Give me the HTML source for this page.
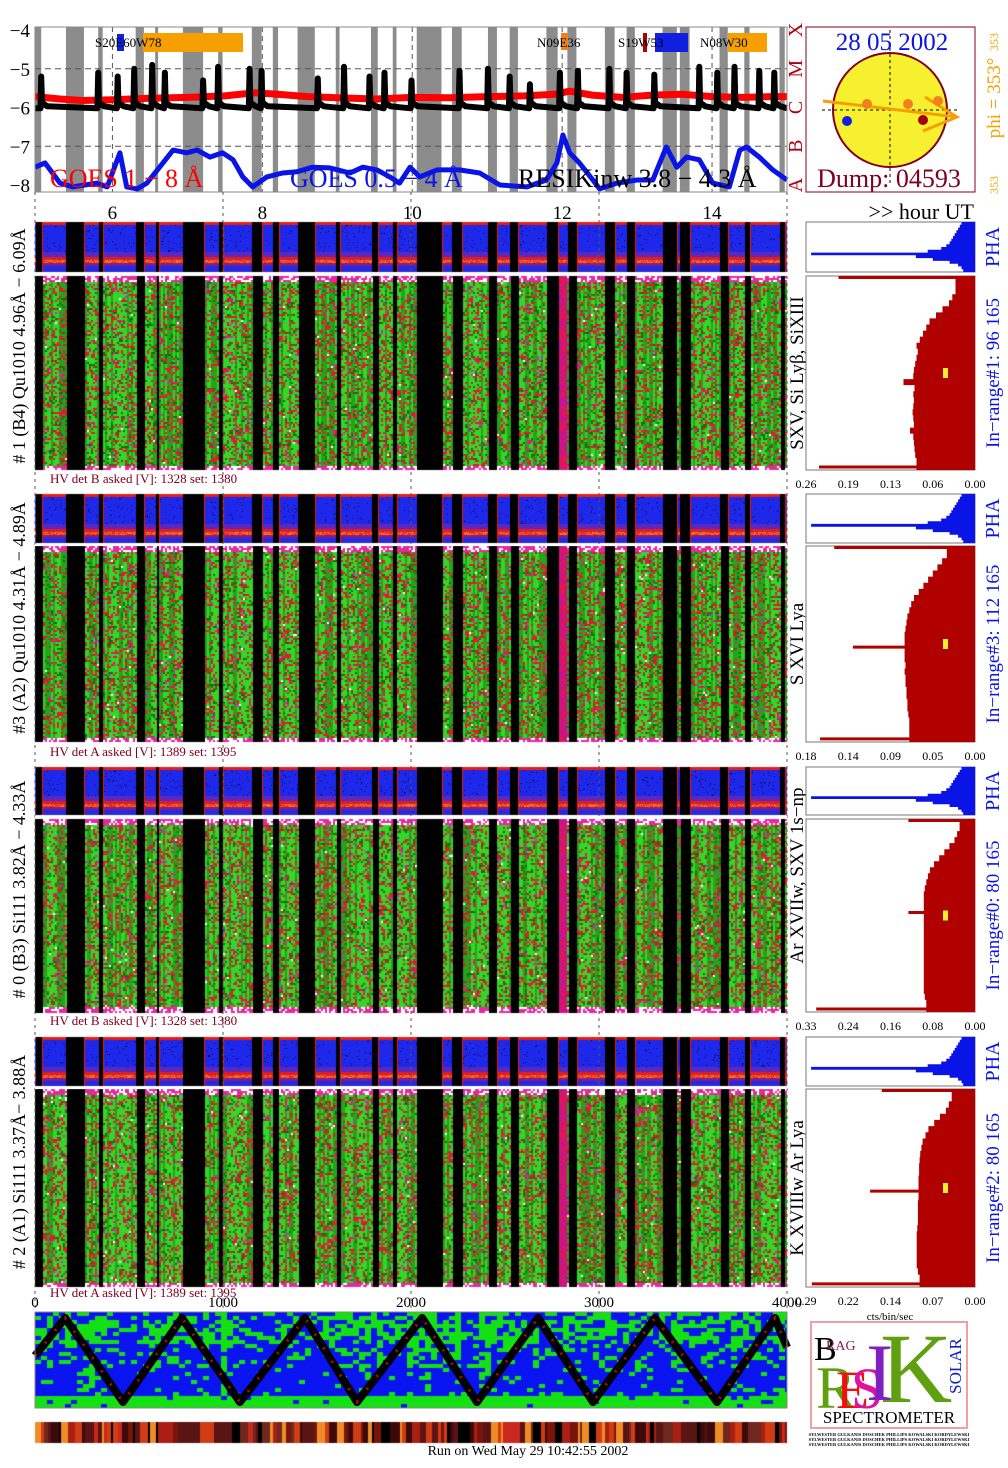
<!DOCTYPE html>
<html><head><meta charset="utf-8">
<style>
html,body{margin:0;padding:0;background:#fff;}
#wrap{position:relative;width:1008px;height:1468px;overflow:hidden;font-family:"Liberation Serif",serif;}
canvas{position:absolute;left:0;top:0;}
svg{position:absolute;left:0;top:0;}
</style></head>
<body>
<div id="wrap">
<canvas id="cv" width="1008" height="1468"></canvas>
<svg id="sv" width="1008" height="1468" xmlns="http://www.w3.org/2000/svg"></svg>
</div>
<script>
// ---------- DATA ----------
const hourTicks = [6, 8, 10, 12, 14];
const logTicks = [-4, -5, -6, -7, -8];
const classLetters = ["X", "M", "C", "B", "A"];
const gapStart = [4.97,5.38,5.81,6.31,6.57,6.94,7.41,7.86,8.14,8.47,8.98,9.45,9.74,10.06,10.53,11.01,11.30,11.79,12.07,12.57,12.86,13.34,13.57,14.10,14.43,14.90];
const gapEnd   = [5.05,5.62,5.87,6.42,6.61,7.21,7.47,7.99,8.21,8.70,9.03,9.54,9.79,10.39,10.66,11.13,11.41,11.94,12.19,12.70,12.97,13.53,13.70,14.21,14.50,14.97];
const redT = [4.97,5.3,5.6,6.0,6.5,7.0,7.5,7.9,8.2,8.6,9.0,9.5,10.0,10.5,11.0,11.5,11.9,12.1,12.4,12.8,13.2,13.6,14.0,14.4,14.8,15.0];
const redV = [-5.72,-5.78,-5.82,-5.80,-5.76,-5.74,-5.70,-5.62,-5.66,-5.72,-5.75,-5.78,-5.74,-5.75,-5.72,-5.70,-5.66,-5.58,-5.68,-5.74,-5.68,-5.66,-5.72,-5.74,-5.72,-5.72];
const spikeT = [5.05,5.81,6.07,6.29,6.53,6.70,7.21,7.41,7.83,7.99,8.74,9.09,9.43,9.63,9.99,10.63,11.01,11.30,11.57,11.97,12.21,12.63,12.86,13.23,13.83,14.07,14.30,14.63,14.83];
const spikeV = [-5.2,-5.1,-5.2,-5.0,-4.9,-5.1,-5.3,-4.95,-5.0,-5.05,-5.25,-4.95,-5.2,-5.1,-5.3,-5.05,-5.0,-5.2,-5.4,-5.1,-5.05,-5.0,-5.1,-5.15,-4.95,-5.1,-4.95,-5.05,-5.1];
const blackBase = -6.02;
const blueT = [4.97,5.10,5.30,5.47,5.79,5.93,6.10,6.19,6.33,6.46,6.63,6.81,6.99,7.13,7.30,7.47,7.61,7.74,7.87,8.06,8.27,8.46,8.67,8.90,9.17,9.34,9.53,9.70,9.83,9.97,10.10,10.33,10.63,10.90,11.17,11.53,11.79,11.93,12.01,12.10,12.23,12.41,12.50,12.73,13.00,13.21,13.39,13.53,13.66,13.83,14.01,14.23,14.37,14.46,14.63,14.81,15.00];
const blueV = [-7.54,-7.43,-7.95,-8.05,-7.95,-8.05,-7.17,-8.05,-8.1,-7.95,-7.54,-7.10,-7.17,-7.10,-7.28,-7.17,-7.35,-7.79,-8.05,-7.79,-7.69,-7.66,-7.54,-7.56,-7.69,-7.54,-7.61,-7.79,-7.95,-7.54,-7.79,-7.61,-7.61,-7.69,-8.0,-8.05,-7.87,-7.43,-6.71,-7.17,-7.43,-7.87,-8.1,-7.95,-7.87,-7.87,-7.02,-7.54,-7.28,-7.35,-7.95,-8.05,-7.10,-7.02,-7.28,-7.61,-7.87];
const binTicks = [0, 1000, 2000, 3000, 4000];
const zigB = [0,160,468,782,1090,1436,1713,2059,2351,2676,2968,3298,3628,3936,4000];
const zigP = [0.55,1,0,1,0,1,0,1,0,1,0,1,0,1,0.65];
const hist1 = [0.21,0.03,0.03,0.035,0.04,0.05,0.06,0.07,0.075,0.08,0.085,0.09,0.088,0.09,0.092,0.094,0.095,0.11,0.093,0.095,0.094,0.095,0.096,0.095,0.094,0.1,0.095,0.094,0.093,0.092,0.09,0.24];
const hist2 = [0.15,0.03,0.035,0.04,0.045,0.05,0.055,0.06,0.065,0.068,0.07,0.072,0.073,0.074,0.075,0.075,0.13,0.075,0.075,0.074,0.075,0.074,0.074,0.073,0.073,0.072,0.072,0.071,0.07,0.07,0.07,0.165];
const hist3 = [0.13,0.03,0.035,0.04,0.05,0.06,0.07,0.08,0.088,0.092,0.095,0.098,0.1,0.1,0.1,0.13,0.1,0.1,0.1,0.1,0.1,0.1,0.1,0.1,0.1,0.1,0.1,0.1,0.1,0.098,0.095,0.31];
const hist4 = [0.16,0.04,0.045,0.05,0.06,0.07,0.08,0.085,0.09,0.092,0.094,0.095,0.096,0.096,0.097,0.097,0.18,0.097,0.098,0.098,0.098,0.098,0.099,0.1,0.1,0.1,0.1,0.1,0.1,0.098,0.095,0.28];
const histMax = [0.26, 0.18, 0.33, 0.29];
const histTicks1 = ["0.26","0.19","0.13","0.06","0.00"];
const histTicks2 = ["0.18","0.14","0.09","0.05","0.00"];
const histTicks3 = ["0.33","0.24","0.16","0.08","0.00"];
const histTicks4 = ["0.29","0.22","0.14","0.07","0.00"];
const phaFrac = [0.08,0.09,0.1,0.11,0.12,0.13,0.14,0.15,0.17,0.2,0.28,0.97,0.35,0.25,0.15,0.1,0.08,0.07];
const inRange = ["In\u2212range#1:   96 165","In\u2212range#3:   112 165","In\u2212range#0:   80 165","In\u2212range#2:   80 165"];
const detLabel = ["# 1 (B4) Qu1010 4.96\u00c5 \u2212 6.09\u00c5","#3 (A2) Qu1010  4.31\u00c5 \u2212 4.89\u00c5","# 0 (B3) Si111  3.82\u00c5 \u2212 4.33\u00c5","# 2 (A1) Si111  3.37\u00c5\u2212 3.88\u00c5"];
const lineLabel = ["SXV, Si Ly\u03b2, SiXIII","S XVI Lya","Ar XVIIw,  SXV 1s\u2212np","K XVIIIw  Ar Lya"];
const hvText = ["HV det B asked [V]:  1328 set:  1380","HV det A asked [V]:  1389 set:  1395","HV det B asked [V]:  1328 set:  1380","HV det A asked [V]:  1389 set:  1395"];

// ---------- LAYOUT ----------
const X0 = 35, X1 = 787, T0 = 4.967, T1 = 15.0;
const xH = h => X0 + (h - T0) / (T1 - T0) * (X1 - X0);
const GY0 = 30, GY1 = 185;
const yL = v => GY0 + (-4 - v) / 4 * (GY1 - GY0);
const xB = b => X0 + b / 4000 * (X1 - X0);
const blocks = [
  {s0:222,s1:272,m0:276,m1:470,hv:483},
  {s0:494,s1:543,m0:546,m1:742,hv:756},
  {s0:767,s1:815,m0:819,m1:1012,hv:1025},
  {s0:1037,s1:1086,m0:1089,m1:1287,hv:1297}
];
const hists = [hist1, hist2, hist3, hist4];
const histTicks = [histTicks1, histTicks2, histTicks3, histTicks4];
const HX0 = 806, HX1 = 975;

// ---------- CANVAS TEXTURES ----------
let seed = 12345;
function rnd(){ seed = (seed * 1664525 + 1013904223) >>> 0; return seed / 4294967296; }
const cv = document.getElementById('cv');
const ctx = cv.getContext('2d');
const img = ctx.createImageData(1008, 1468);
const D = img.data;
function px(x, y, r, g, b){ const i = (y * 1008 + x) * 4; D[i]=r; D[i+1]=g; D[i+2]=b; D[i+3]=255; }
function inGap(x){ for (let k=0;k<gapStart.length;k++){ if (x >= xH(gapStart[k]) && x < xH(gapEnd[k])) return true; } return false; }
const gapCol = []; for (let x=0;x<1008;x++) gapCol[x] = inGap(x);
for (const bl of blocks) {
  for (let x = X0; x < X1; x++) {
    const edge = x>X0 && gapCol[x-1] && !gapCol[x];
    for (let y = bl.s0; y < bl.s1; y++) {
      if (gapCol[x]) { px(x,y,0,0,0); continue; }
      const f = (y - bl.s0) / (bl.s1 - bl.s0);
      let c;
      if (edge || f < 0.05) c = [230,30,20];
      else if (f < 0.6) c = rnd()<0.03 ? [10,10,60] : [30,40,235];
      else if (f < 0.7) c = [90,40,190];
      else if (f < 0.76) c = [220,30,40];
      else if (f < 0.82) c = rnd()<0.5 ? [250,120,30] : [240,40,20];
      else if (f < 0.88) c = [120,30,150];
      else c = [40,40,220];
      px(x,y,c[0],c[1],c[2]);
    }
  }
  for (let x = X0; x < X1; x += 2) {
    const colBright = rnd() < 0.6;
    const mag = (x >= 555 && x < 566);
    for (let y = bl.m0; y < bl.m1; y += 2) {
      let c;
      if (gapCol[x] || x < 41) c = [0,0,0];
      else if (mag) c = rnd()<0.5 ? [230,20,80] : [190,20,160];
      else if (y < bl.m0 + 5 || y > bl.m1 - 6) c = rnd()<0.4 ? [255,255,255] : [230,40,160];
      else {
        const r = rnd();
        if (r < 0.005) c = [255,255,255];
        else if (r < 0.025) c = [210,30,200];
        else if (r < 0.25) c = [225,25,50];
        else if (r < 0.35) c = [20,110,10];
        else c = colBright ? [50,215,40] : [35,165,25];
      }
      px(x,y,c[0],c[1],c[2]); px(x+1,y,c[0],c[1],c[2]); px(x,y+1,c[0],c[1],c[2]); px(x+1,y+1,c[0],c[1],c[2]);
    }
  }
}
// bottom detector image: coarse blobs
const CW = 6, CH = 4;
for (let cx = X0; cx < X1; cx += CW) {
  const colG = rnd();
  for (let cy = 1312; cy < 1408; cy += CH) {
    const f = (cy - 1312) / 96;
    let pg;
    if (f < 0.08) pg = 0.35; else if (f < 0.3) pg = 0.55; else if (f < 0.55) pg = 0.25; else if (f < 0.84) pg = 0.1; else pg = 0.92;
    if (colG < 0.2 && f < 0.84) pg += 0.25;
    const g = rnd() < pg;
    const c = g ? [20,225,20] : [10,20,240];
    for (let x = cx; x < Math.min(cx+CW, X1); x++) for (let y = cy; y < Math.min(cy+CH,1408); y++) px(x,y,c[0],c[1],c[2]);
  }
}
// colour bar strip
const palette = [[0,0,0],[120,20,10],[170,30,20],[210,60,20],[240,140,40],[90,20,20],[200,40,30],[60,10,10],[110,40,30]];
for (let x = X0; x < X1;) {
  const w = 2 + Math.floor(rnd()*7);
  const c = palette[Math.floor(rnd()*palette.length)];
  for (let xx = x; xx < Math.min(x+w, X1); xx++) for (let y = 1422; y < 1443; y++) px(xx,y,c[0],c[1],c[2]);
  x += w;
}
for (let i = 0; i < D.length; i += 4) { if (D[i+3] === 0) { D[i]=255; D[i+1]=255; D[i+2]=255; D[i+3]=255; } }
ctx.putImageData(img, 0, 0);

// ---------- SVG ----------
const NS = "http://www.w3.org/2000/svg";
const sv = document.getElementById('sv');
function mk(tag, attrs, parent){ const e = document.createElementNS(NS, tag); for (const k in attrs) e.setAttribute(k, attrs[k]); (parent||sv).appendChild(e); return e; }
function txt(s, attrs, parent){ const e = mk('text', attrs, parent); e.textContent = s; return e; }

const goes = mk('g', {});


const bg = mk('rect', {x:X0,y:27,width:X1-X0,height:165,fill:'#fff'}, goes);


for (let k = 0; k < gapStart.length; k++) {
  const r = mk('rect', {x:xH(gapStart[k]), y:27, width:xH(gapEnd[k])-xH(gapStart[k]), height:165, fill:'#8c8c8c'}, goes);
  
  
}
for (const v of [-5,-6,-7]) {
  const l = mk('line', {x1:X0,x2:X1,y1:yL(v),y2:yL(v),stroke:'#555','stroke-dasharray':'6,4','stroke-width':1}, goes);
  
  
}
for (const h of hourTicks) {
  const l = mk('line', {x1:xH(h),x2:xH(h),y1:27,y2:192,stroke:'#555','stroke-dasharray':'5,4','stroke-width':1}, goes);
  
  
}
let d = redT.map((t,i)=>(i?'L':'M')+xH(t).toFixed(1)+','+yL(redV[i]).toFixed(1)).join(' ');
const redPath = mk('path', {d:d, fill:'none', stroke:'#f00', 'stroke-width':7}, goes);


let bp = [[T0, blackBase]];
for (let i = 0; i < spikeT.length; i++) {
  bp.push([spikeT[i]-0.01, blackBase]);
  bp.push([spikeT[i], spikeV[i]]);
  bp.push([spikeT[i]+0.01, blackBase+0.15]);
  bp.push([spikeT[i]+0.08, blackBase+0.05]);
}
bp.push([T1, blackBase]);
d = bp.map((p,i)=>(i?'L':'M')+xH(p[0]).toFixed(1)+','+yL(p[1]).toFixed(1)).join(' ');
const blkPath = mk('path', {d:d, fill:'none', stroke:'#000', 'stroke-width':6, 'stroke-linejoin':'round'}, goes);


d = blueT.map((t,i)=>(i?'L':'M')+xH(t).toFixed(1)+','+yL(Math.max(blueV[i],-8.12)).toFixed(1)).join(' ');
const bluePath = mk('path', {d:d, fill:'none', stroke:'#0a14e6', 'stroke-width':5, 'stroke-linejoin':'round'}, goes);


const fr = mk('rect', {x:X0,y:27,width:X1-X0,height:165,fill:'none',stroke:'#888'}, goes);


logTicks.forEach((v,i)=>{
  const t = txt('\u2212'+(-v), {x:30,y:yL(v)+7,'font-size':19,'text-anchor':'end'});
  
  
  const c = txt(classLetters[i], {x:0,y:0,'font-size':20,fill:'#b00010','text-anchor':'middle',transform:'translate(802,'+(yL(v))+') rotate(-90)'});
  
  
});
const g1 = txt('GOES 1 \u2212 8 \u00c5', {x:50,y:187,'font-size':26,fill:'#f00'});
 
const g2 = txt('GOES 0.5 \u2212 4 \u00c5', {x:290,y:187,'font-size':26,fill:'#0a14e6'});
 
const g3 = txt('RESIKinw 3.8 \u2212 4.3 \u00c5', {x:518,y:187,'font-size':26,fill:'#000'});
 
const arRects = [[117,34,7,17,'#1020e0'],[143,33,100,19,'#f5a000'],[561,33,7,17,'#f08020'],[643,33,4,19,'#b00000'],[655,33,33,19,'#1020e0'],[728,33,39,19,'#f5a000']];
for (const r of arRects) {
  const e = mk('rect', {x:r[0],y:r[1],width:r[2],height:r[3],fill:r[4]});
  
  
}
const arText = [['S20E60W78',95],['N09E36',537],['S19W53',618],['N08W30',700]];
for (const a of arText) {
  const e = txt(a[0], {x:a[1],y:47,'font-size':13});
  
  
}
hourTicks.forEach(h=>{
  const e = txt(String(h), {x:xH(h),y:219,'font-size':19,'text-anchor':'middle'});
  
  
});
const hu = txt('>> hour UT', {x:974,y:219,'font-size':22,'text-anchor':'end'});


for (const b of binTicks) {
  const l = mk('line', {x1:xB(b),x2:xB(b),y1:192,y2:1312,stroke:'#555','stroke-dasharray':'3,4','stroke-width':1});
  
  
}

const sun = mk('g', {});


mk('rect', {x:806,y:27,width:169,height:165,fill:'#fff',stroke:'#800020'}, sun);
const disk = mk('circle', {cx:890,cy:110,r:57,fill:'#f6f02e',stroke:'#800020','stroke-width':2}, sun);
 
mk('line', {x1:822,x2:958,y1:110,y2:110,stroke:'#000','stroke-dasharray':'3,3'}, sun);
mk('line', {x1:890,x2:890,y1:30,y2:185,stroke:'#000','stroke-dasharray':'3,3'}, sun);
const arrow = mk('path', {d:'M823,101 L957,117 M925,97 L957,117 L923,131',fill:'none',stroke:'#f5a000','stroke-width':3}, sun);
 
const dots = [[867,104,'#f08020'],[908,104,'#f08020'],[938,101,'#f08020'],[847,121,'#1020e0'],[923,120,'#a00010']];
for (const p of dots) {
  const c = mk('circle', {cx:p[0],cy:p[1],r:5,fill:p[2]}, sun);
  
  
}
const dt = txt('28 05 2002', {x:892,y:50,'font-size':25,fill:'#0a14e6','text-anchor':'middle'}, sun);
 
const dp = txt('Dump: 04593', {x:889,y:187,'font-size':26,fill:'#800020','text-anchor':'middle'}, sun);
 
const phi = txt('phi = 353\u00b0', {x:0,y:0,'font-size':19,fill:'#f5a000','text-anchor':'middle',transform:'translate(1000,98) rotate(-90)'});
 
const phi2 = txt('353', {x:0,y:0,'font-size':12,fill:'#f5a000','text-anchor':'middle',transform:'translate(998,42) rotate(-90)'});
 
const phi3 = txt('353', {x:0,y:0,'font-size':12,fill:'#f5a000','text-anchor':'middle',transform:'translate(998,185) rotate(-90)'});
 

blocks.forEach((bl, bi)=>{
  const g = mk('g', {});
  
  
  const lab = txt(detLabel[bi], {x:0,y:0,'font-size':18,'text-anchor':'middle',transform:'translate(25,'+((bl.s0+bl.m1)/2)+') rotate(-90)'}, g);
   
  const hv = txt(hvText[bi], {x:50,y:bl.hv,'font-size':13,fill:'#800020','xml:space':'preserve'}, g);
   
  const ll = txt(lineLabel[bi], {x:0,y:0,'font-size':19,'text-anchor':'middle','xml:space':'preserve',transform:'translate(803,'+((bl.m0+bl.m1)/2 + (bi==2? -40:0))+') rotate(-90)'}, g);
   
  const ph = bl.s1 - bl.s0, n = phaFrac.length;
  let pts = [[HX1, bl.s0]];
  phaFrac.forEach((f,i)=>{ const y0 = bl.s0 + i*ph/n, y1 = bl.s0 + (i+1)*ph/n; const x = HX1 - f*(HX1-HX0); pts.push([x,y0],[x,y1]); });
  pts.push([HX1, bl.s1]);
  mk('rect', {x:HX0,y:bl.s0,width:HX1-HX0,height:ph,fill:'#fff',stroke:'#777'}, g);
  const pp = mk('polygon', {points:pts.map(p=>p[0].toFixed(1)+','+p[1].toFixed(1)).join(' '),fill:'#0a14e6'}, g);
   
  const pl = txt('PHA', {x:0,y:0,'font-size':20,fill:'#0a14e6','text-anchor':'middle',transform:'translate(999,'+((bl.s0+bl.s1)/2)+') rotate(-90)'}, g);
   
  const hd = hists[bi], mh = bl.m1 - bl.m0, m = hd.length, mx = histMax[bi];
  const hxv = v => HX1 - v / mx * (HX1 - HX0);
  pts = [[HX1, bl.m0]];
  hd.forEach((v,i)=>{ const y0 = bl.m0 + i*mh/m, y1 = bl.m0 + (i+1)*mh/m; const isSpike = (i>0 && v > hd[i-1]*1.2 && (i==m-1 || v > hd[i+1]*1.2)); if (isSpike) { const ym=(y0+y1)/2; pts.push([hxv(hd[i-1]||v),y0],[hxv(hd[i-1]||v),ym-1.5],[hxv(v),ym-1.5],[hxv(v),ym+1.5],[hxv(i==m-1?hd[i-1]:hd[i+1]),ym+1.5],[hxv(i==m-1?hd[i-1]:hd[i+1]),y1]); } else if (i==0) { pts.push([hxv(v),y0],[hxv(v),y0+3],[hxv(hd[1]),y0+3],[hxv(hd[1]),y1]); } else pts.push([hxv(v),y0],[hxv(v),y1]); });
  pts.push([HX1, bl.m1]);
  mk('rect', {x:HX0,y:bl.m0,width:HX1-HX0,height:mh,fill:'#fff',stroke:'#777'}, g);
  const hp = mk('polygon', {points:pts.map(p=>p[0].toFixed(1)+','+p[1].toFixed(1)).join(' '),fill:'#b00000'}, g);
   
  const ym = mk('rect', {x:943,y:(bl.m0+bl.m1)/2-5,width:5,height:10,fill:'#f6f02e'}, g);
   
  histTicks[bi].forEach((s,i)=>{
    const t = txt(s, {x:HX0 + i*(HX1-HX0)/4,y:bl.m1+18,'font-size':12,'text-anchor':'middle'}, g);
     
  });
  const ir = txt(inRange[bi], {x:0,y:0,'font-size':19,fill:'#0a14e6','text-anchor':'middle','xml:space':'preserve',transform:'translate(999,'+((bl.m0+bl.m1)/2)+') rotate(-90)'}, g);
   
  mk('line', {x1:X0,x2:X1,y1:bl.s1+2,y2:bl.s1+2,stroke:'#fff','stroke-width':2}, g);
});
const cbs = txt('cts/bin/sec', {x:890,y:1320,'font-size':11,'text-anchor':'middle'});
 

binTicks.forEach(b=>{
  const t = txt(String(b), {x:xB(b),y:1307,'font-size':15,'text-anchor':'middle'});
   
});
const zy = p => 1402 - p * (1402 - 1318);
const zpath = zigB.map((b,i)=>(i?'L':'M')+xB(b).toFixed(1)+','+zy(zigP[i]).toFixed(1)).join(' ');
const zz = mk('path', {d:zpath, fill:'none', stroke:'#000', 'stroke-width':8, 'stroke-linejoin':'round'});
 
const zz2 = mk('path', {d:zpath, fill:'none', stroke:'#a01010', 'stroke-width':3, 'stroke-dasharray':'2,14'});
 
const dframe = mk('rect', {x:X0,y:1312,width:X1-X0,height:96,fill:'none',stroke:'#888'});
 
const run = txt('Run on Wed May 29 10:42:55 2002', {x:528,y:1455,'font-size':14,'text-anchor':'middle'});
 

const logo = mk('g', {});


mk('rect', {x:811,y:1322,width:156,height:106,fill:'#fff',stroke:'#f0a0a0','stroke-width':2}, logo);
txt('K', {x:880,y:1402,'font-size':100,fill:'#60a010'}, logo);
txt('R', {x:816,y:1408,'font-size':60,fill:'#60a010'}, logo);
txt('E', {x:836,y:1408,'font-size':54,fill:'#f01010'}, logo);
txt('S', {x:851,y:1408,'font-size':58,fill:'#e010a0'}, logo);
txt('I', {x:866,y:1400,'font-size':82,fill:'#8020c0'}, logo);
txt('B', {x:814,y:1360,'font-size':34,fill:'#000'}, logo);
txt('RAG', {x:826,y:1350,'font-size':14,fill:'#802060'}, logo);
txt('SOLAR', {x:0,y:0,'font-size':17,fill:'#1020c0','text-anchor':'middle',transform:'translate(961,1366) rotate(-90)'}, logo);
txt('SPECTROMETER', {x:889,y:1423,'font-size':17,'text-anchor':'middle'}, logo);
for (let i=0;i<3;i++) txt('SYLWESTER GULKANIS DOSCHEK PHILLIPS KOWALSKI KORDYLEWSKI', {x:889,y:1436+i*5,'font-size':4.5,'text-anchor':'middle','font-weight':'bold'}, logo);
</script>
</body></html>
